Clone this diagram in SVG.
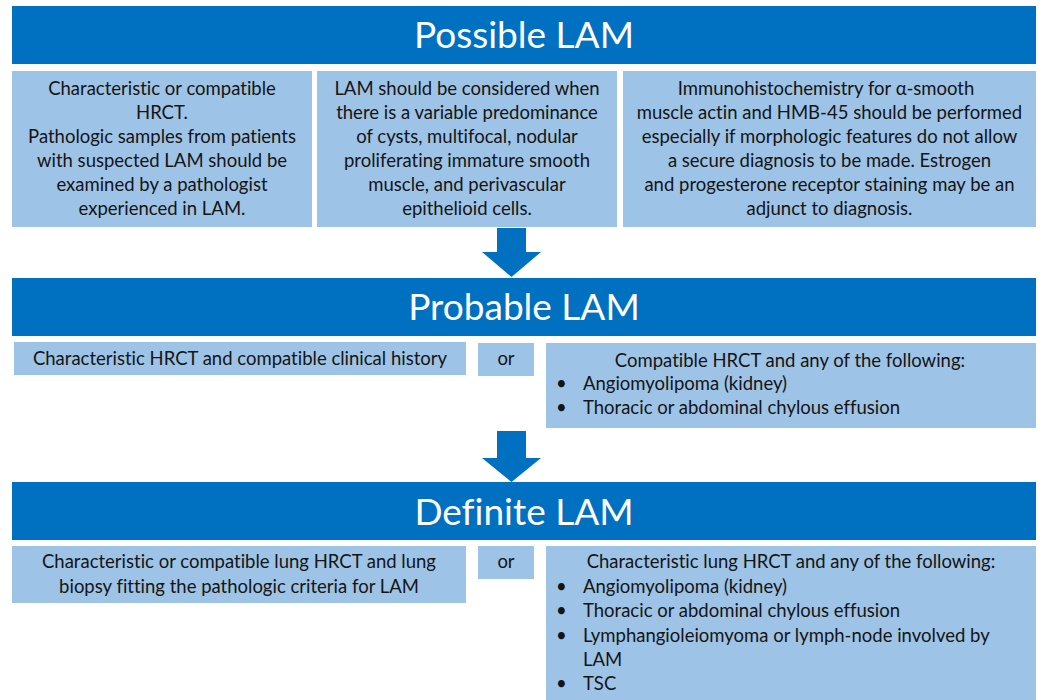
<svg xmlns="http://www.w3.org/2000/svg" width="1042" height="700" viewBox="0 0 1042 700">
<style>
.hdr{fill:#0070C0}
.box{fill:#9DC3E6}
.ht{font-family:Lato,"Open Sans",sans-serif;font-size:37px;fill:#fff;text-anchor:middle;font-variant-ligatures:none}
.t{font-family:Lato,"Open Sans",sans-serif;font-size:18.5px;fill:#151515;font-variant-ligatures:none}
.c{text-anchor:middle}
.arrow{fill:#0070C0}
</style>
<rect width="1042" height="700" fill="#fff"/>
<g id="possible">
<rect class="hdr" x="12" y="6" width="1024" height="58"/>
<text class="ht" x="524" y="48">Possible LAM</text>
</g>
<g id="possible-1">
<rect class="box" x="12" y="71" width="300" height="156"/>
<text class="t c" x="162" y="95">Characteristic or compatible</text>
<text class="t c" x="162" y="119">HRCT.</text>
<text class="t c" x="162" y="143">Pathologic samples from patients</text>
<text class="t c" x="162" y="167">with suspected LAM should be</text>
<text class="t c" x="162" y="191">examined by a pathologist</text>
<text class="t c" x="162" y="215">experienced in LAM.</text>
</g>
<g id="possible-2">
<rect class="box" x="317" y="71" width="300" height="156"/>
<text class="t c" x="467" y="95">LAM should be considered when</text>
<text class="t c" x="467" y="119">there is a variable predominance</text>
<text class="t c" x="467" y="143">of cysts, multifocal, nodular</text>
<text class="t c" x="467" y="167">proliferating immature smooth</text>
<text class="t c" x="467" y="191">muscle, and perivascular</text>
<text class="t c" x="467" y="215">epithelioid cells.</text>
</g>
<g id="possible-3">
<rect class="box" x="623" y="71" width="413" height="156"/>
<text class="t c" x="826" y="95">Immunohistochemistry for α-smooth</text>
<text class="t c" x="829.5" y="119">muscle actin and HMB-45 should be performed</text>
<text class="t c" x="829.5" y="143">especially if morphologic features do not allow</text>
<text class="t c" x="829.5" y="167">a secure diagnosis to be made. Estrogen</text>
<text class="t c" x="829.5" y="191">and progesterone receptor staining may be an</text>
<text class="t c" x="829.5" y="215">adjunct to diagnosis.</text>
</g>
<g id="probable">
<rect class="hdr" x="12" y="278" width="1024" height="58"/>
<text class="ht" x="524" y="320">Probable LAM</text>
</g>
<g id="probable-1">
<rect class="box" x="14" y="342" width="452" height="33"/>
<text class="t c" x="240" y="365">Characteristic HRCT and compatible clinical history</text>
</g>
<g id="probable-or">
<rect class="box" x="478" y="343" width="56" height="33"/>
<text class="t c" x="506" y="365">or</text>
</g>
<g id="probable-2">
<rect class="box" x="546" y="343" width="490" height="85"/>
<text class="t c" x="790" y="367">Compatible HRCT and any of the following:</text>
<text class="t" x="556" y="390">•</text>
<text class="t" x="583" y="390">Angiomyolipoma (kidney)</text>
<text class="t" x="556" y="414">•</text>
<text class="t" x="583" y="414">Thoracic or abdominal chylous effusion</text>
</g>
<g id="definite">
<rect class="hdr" x="12" y="482" width="1024" height="58"/>
<text class="ht" x="524" y="525">Definite LAM</text>
</g>
<g id="definite-1">
<rect class="box" x="12" y="546" width="454" height="57"/>
<text class="t c" x="239" y="568">Characteristic or compatible lung HRCT and lung</text>
<text class="t c" x="239" y="593">biopsy fitting the pathologic criteria for LAM</text>
</g>
<g id="definite-or">
<rect class="box" x="478" y="546" width="56" height="33"/>
<text class="t c" x="506" y="568">or</text>
</g>
<g id="definite-2">
<rect class="box" x="546" y="546" width="490" height="154"/>
<text class="t c" x="791" y="568">Characteristic lung HRCT and any of the following:</text>
<text class="t" x="556" y="593">•</text>
<text class="t" x="583" y="593">Angiomyolipoma (kidney)</text>
<text class="t" x="556" y="617">•</text>
<text class="t" x="583" y="617">Thoracic or abdominal chylous effusion</text>
<text class="t" x="556" y="642">•</text>
<text class="t" x="583" y="642">Lymphangioleiomyoma or lymph-node involved by</text>
<text class="t" x="583" y="666">LAM</text>
<text class="t" x="556" y="690">•</text>
<text class="t" x="583" y="690">TSC</text>
</g>
<g id="connectors">
<path class="arrow" d="M497,228 H526 V252 H541 L511.5,277 L482,252 H497 Z"/>
<path class="arrow" d="M497,431 H526 V458 H541 L511.5,482 L482,458 H497 Z"/>
</g>
</svg>
